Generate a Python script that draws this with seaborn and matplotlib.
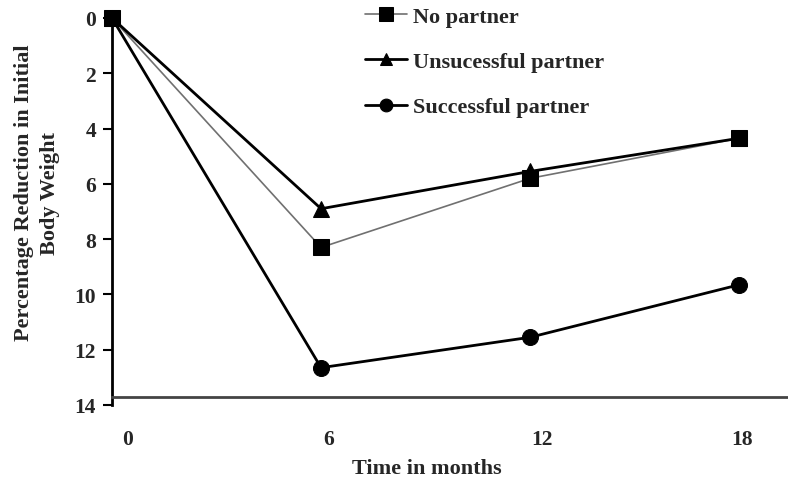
import numpy as np
import pandas as pd
import matplotlib
matplotlib.use("Agg")
import matplotlib.pyplot as plt
import matplotlib.transforms as mtransforms
import seaborn as sns

# ── Data ──────────────────────────────────────────
months       = [0, 6, 12, 18]
no_partner   = [0.0, 8.3, 5.8, 4.35]
unsuccessful = [0.0, 6.9, 5.55, 4.35]
successful   = [0.0, 12.65, 11.55, 9.65]
x_ticks      = [0, 6, 12, 18]
y_ticks      = [0, 2, 4, 6, 8, 10, 12, 14]

series = [
    ("No partner",           no_partner,   "s", "#707070", 1.2, 12),
    ("Unsucessful partner",  unsuccessful, "^", "black",   2.0, 11),
    ("Successful partner",   successful,   "o", "black",   2.0, 11.5),
]

sns.set_style("white")
plt.rcParams["font.family"] = ["Liberation Serif", "DejaVu Serif"]
plt.rcParams["font.weight"] = "bold"

FS = 16
W, H = 788, 485
fig = plt.figure(figsize=(W / 100, H / 100), dpi=100)
ax = fig.add_axes([112 / W, 1 - 406 / H, 676 / W, 387 / H])

for name, vals, mk, col, lw, ms in series:
    df = pd.DataFrame({"month": months, "value": vals})
    sns.lineplot(data=df, x="month", y="value", ax=ax, color=col,
                 linewidth=lw, marker=mk, markersize=ms,
                 markerfacecolor="black", markeredgecolor="black",
                 label=name, clip_on=False, zorder=3)

ax.set_xlim(0, 19.4)
ax.set_ylim(14, 0)
ax.set_xticks(x_ticks)
ax.set_yticks(y_ticks)

for s in ["top", "right"]:
    ax.spines[s].set_visible(False)
ax.spines["left"].set_color("black")
ax.spines["left"].set_linewidth(2.0)
ax.spines["bottom"].set_position(("data", 13.72))
ax.spines["bottom"].set_color("#444444")
ax.spines["bottom"].set_linewidth(2.0)

ax.tick_params(axis="y", direction="out", length=6.5, width=1.5,
               color="black", left=True, pad=5, labelsize=15.5)
ax.tick_params(axis="x", length=0, pad=23, labelsize=15.5)
for t in ax.get_xticklabels() + ax.get_yticklabels():
    t.set_fontweight("bold")

# the printed month labels sit a little right of their points
for t, dx in zip(ax.get_xticklabels(), [16, 8, 12, 3]):
    off = mtransforms.ScaledTranslation(dx / 100, 0, fig.dpi_scale_trans)
    t.set_transform(t.get_transform() + off)

ax.set_xlabel("Time in months", fontsize=FS, fontweight="bold")
ax.xaxis.set_label_coords((427 - 112) / 676, (406 - 459) / 387)
ax.set_ylabel("Percentage Reduction in Initial\nBody Weight",
              fontsize=FS, fontweight="bold", linespacing=1.4)
ax.yaxis.set_label_coords((60 - 112) / 676, 0.55)

leg = ax.legend(loc="upper left", frameon=False,
                bbox_to_anchor=(365 / W, 1 - 7 / H),
                bbox_transform=fig.transFigure, borderaxespad=0,
                borderpad=0, handlelength=1.9, handletextpad=0.27,
                labelspacing=1.12, markerscale=0.8,
                prop={"size": FS, "weight": "bold"})

fig.savefig("out.png", dpi=100)
